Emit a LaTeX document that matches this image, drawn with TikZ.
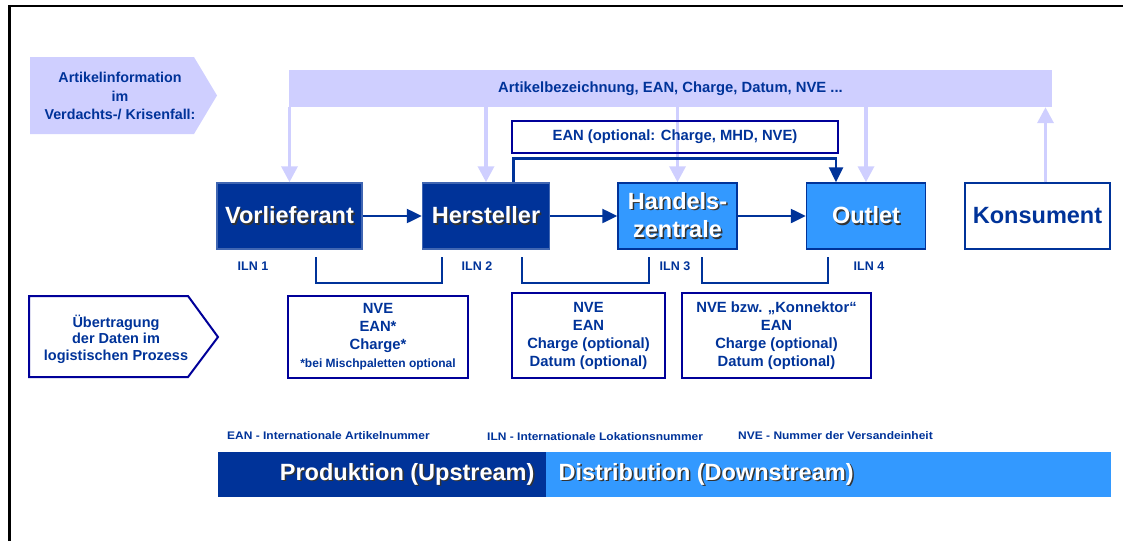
\documentclass[tikz,border=0pt]{standalone}
\usepackage{fontspec}
\setmainfont{Liberation Sans}
\newfontfamily\legendfont[FakeStretch=1.09]{Liberation Sans Bold}
\usepackage{xcolor}
\usepackage{tikz}
\usetikzlibrary{arrows.meta, positioning, calc}
\definecolor{navy}{HTML}{003399}
\definecolor{skyb}{HTML}{3399FF}
\definecolor{lav}{HTML}{CFCFFF}
\definecolor{boxline}{HTML}{000099}
\newcommand\shd[1]{\makebox[0pt][l]{\kern1.5pt\raisebox{-1.5pt}{\textcolor{black!80}{#1}}}#1}
\tikzset{
    mainbox/.style={rectangle, draw=navy, line width=1.5pt, minimum height=66pt, inner sep=2pt, align=center, text=white, font=\fontsize{23.5}{28.5}\selectfont\bfseries},
    darkbox/.style={mainbox, fill=navy, draw=navy!75!white},
    lightbox/.style={mainbox, fill=skyb},
    databox/.style={rectangle, draw=boxline, line width=2pt, align=center, text=navy, font=\fontsize{14.8}{18}\selectfont\bfseries},
    conn/.style={navy, line width=2.5pt, -{Triangle[length=15pt,width=14pt]}},
    lavarrow/.style={lav, line width=3.5pt, -{Triangle[length=16pt,width=16pt]}},
    bracket/.style={navy, line width=1.8pt},
    iln/.style={text=navy, font=\fontsize{12.5}{15}\selectfont\bfseries},
    legend/.style={anchor=west, inner sep=0pt, text=navy, font=\legendfont\fontsize{11}{13}\selectfont}
}
\begin{document}
\begin{tikzpicture}[x=1pt, y=-1pt, >=stealth]
    \useasboundingbox (0,0) rectangle (1123,541);
    \draw[line width=2.5pt] (9.3,541) -- (9.3,6) -- (1123,6);

    % Artikelinformation im Krisenfall
    \fill[lav] (30,57) -- (194,57) -- (217,95.5) -- (194,134) -- (30,134) -- cycle;
    \node (krise) [text=navy, align=center, font=\fontsize{14.3}{18.5}\selectfont\bfseries] at (120,96) {Artikelinformation\\im\\Verdachts-/ Krisenfall:};
    \node (info) [fill=lav, minimum width=763pt, minimum height=37pt, inner sep=0pt, text=navy, font=\fontsize{14.8}{18}\selectfont\bfseries] at (670.5,88.5) {Artikelbezeichnung, EAN, Charge, Datum, NVE ...};

    % Kette
    \node (vorl) [darkbox, minimum width=145pt] at (289.5,216) {\shd{Vorlieferant}};
    \node (herst) [darkbox, minimum width=127pt, right=59pt of vorl] {\shd{Hersteller}};
    \node (handel) [lightbox, minimum width=119pt, right=67pt of herst] {\shd{Handels-}\\\shd{zentrale}};
    \node (outlet) [lightbox, minimum width=119pt, right=68pt of handel] {\shd{Outlet}};
    \node (kons) [mainbox, fill=white, text=navy, minimum width=145pt, right=38pt of outlet] {Konsument};

    \draw[conn] (vorl) -- (herst);
    \draw[conn] (herst) -- (handel);
    \draw[conn] (handel) -- (outlet);

    \foreach \n in {vorl, herst, handel, outlet}
        \draw[lavarrow] (info.south -| \n.north) -- (\n.north);
    \draw[lavarrow] ([xshift=8pt]kons.north) -- ([xshift=8pt]kons.north |- info.south);

    % EAN direkt an Outlet
    \node (eanbox) [databox, minimum width=326pt, minimum height=32pt, inner sep=0pt] at (675,137) {EAN (optional: Charge, MHD, NVE)};
    \draw[conn] ([xshift=27.5pt]herst.north) -- ++(0,-24) -| ([xshift=-30pt]outlet.north);

    % ILN
    \node (iln1) [iln] at (253,266) {ILN 1};
    \node (iln2) [iln] at (477,266) {ILN 2};
    \node (iln3) [iln] at (675,266) {ILN 3};
    \node (iln4) [iln] at (869,266) {ILN 4};

    \draw[bracket] (316,257) |- (442,283) -- (442,257);
    \draw[bracket] (522,257) |- (649,283) -- (649,257);
    \draw[bracket] (702,257) |- (828,283) -- (828,257);

    % Datenuebertragung
    \draw[boxline, line width=2pt] (29,296) -- (188,296) -- (218,337) -- (188,377) -- (29,377) -- cycle;
    \node (transfer) [text=navy, align=center, font=\fontsize{14.5}{16.5}\selectfont\bfseries] at (116,339) {Übertragung\\der Daten im\\logistischen Prozess};

    \node (data1) [databox, minimum width=180pt, minimum height=82pt] at (378,337) {NVE\\EAN*\\Charge*\\{\fontsize{12}{16}\selectfont *bei Mischpaletten optional}};
    \node (data2) [databox, minimum width=153pt, minimum height=85pt] at (588.5,335.5) {NVE\\EAN\\Charge (optional)\\Datum (optional)};
    \node (data3) [databox, minimum width=189pt, minimum height=85pt] at (776.5,335.5) {NVE bzw. „Konnektor“\\EAN\\Charge (optional)\\Datum (optional)};

    % Legende
    \node (legean) [legend] at (227,436) {EAN - Internationale Artikelnummer};
    \node (legiln) [legend] at (487,437) {ILN - Internationale Lokationsnummer};
    \node (legnve) [legend] at (738,436) {NVE - Nummer der Versandeinheit};

    % Upstream / Downstream
    \fill[navy] (218,452) rectangle (546,497);
    \fill[skyb] (546,452) rectangle (1111,497);
    \node (prod) [anchor=east, text=white, font=\fontsize{23.5}{28}\selectfont\bfseries] at (538,475) {\shd{Produktion (Upstream)}};
    \node (dist) [anchor=west, text=white, font=\fontsize{23.5}{28}\selectfont\bfseries] at (555,475) {\shd{Distribution (Downstream)}};
\end{tikzpicture}
\end{document}
